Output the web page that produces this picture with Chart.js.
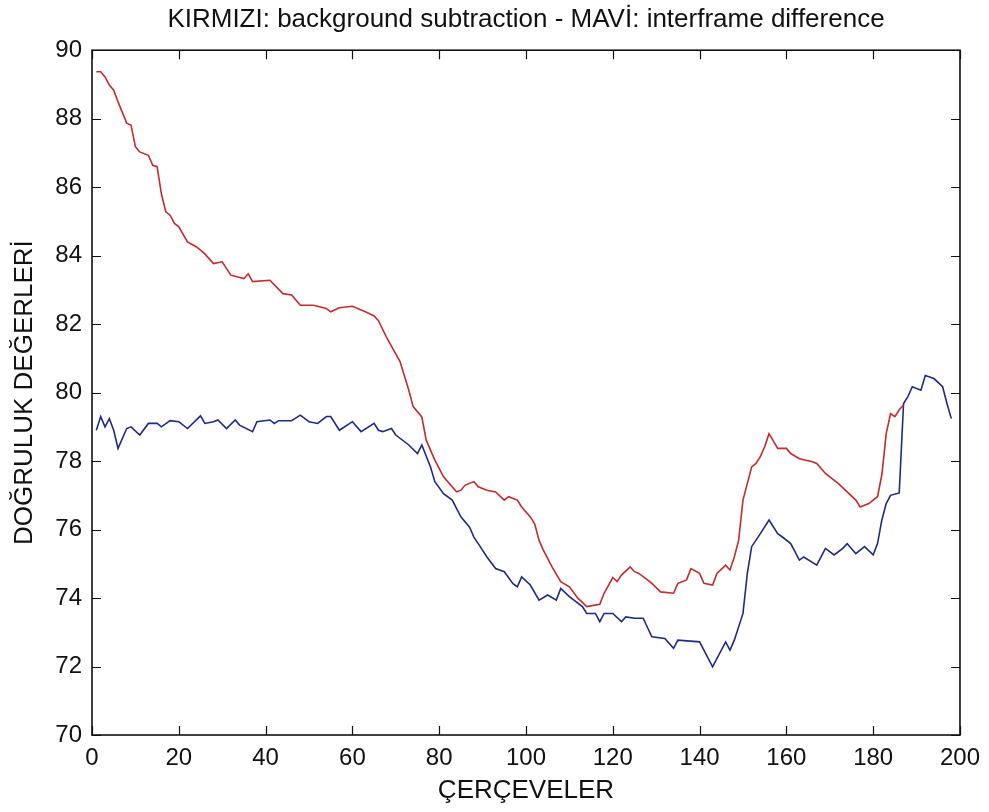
<!DOCTYPE html>
<html>
<head>
<meta charset="utf-8">
<script src="https://cdn.jsdelivr.net/npm/chart.js@4"></script>
<style>
  html, body { margin: 0; padding: 0; background: #fff; }
  #wrap { width: 989px; height: 812px; }
</style>
</head>
<body>
<div id="wrap"><canvas id="grafico" width="989" height="812"></canvas></div>
<script>
/* ================= DADOS ================= */

const titulo = "KIRMIZI: background subtraction - MAVİ: interframe difference";
const tituloX = "ÇERÇEVELER";
const tituloY = "DOĞRULUK DEĞERLERİ";

const xTicks = [0, 20, 40, 60, 80, 100, 120, 140, 160, 180, 200];
const yTicks = [70, 72, 74, 76, 78, 80, 82, 84, 86, 88, 90];

// KIRMIZI: background subtraction
const kirmiziFrames = [1,2,3,4,5,6,8,9,10,11,13,14,15,16,17,18,19,20,22,24,25,26,28,30,31,32,35,36,37,41,44,46,48,51,54,55,57,60,63,65,66,68,71,73,74,76,77,79,81,84,85,86,88,89,91,93,95,96,98,99,101,102,103,104,106,108,110,112,114,117,118,120,121,122,124,125,126,128,129,131,134,135,137,138,140,141,143,144,146,147,148,149,150,152,153,154,155,156,158,160,161,163,166,167,169,170,172,174,176,177,179,181,182,183,184,185,186,187];
const kirmiziValores = [89.37,89.37,89.22,88.98,88.83,88.49,87.87,87.81,87.18,87.03,86.93,86.64,86.60,85.80,85.28,85.18,84.94,84.84,84.40,84.26,84.16,84.05,83.77,83.82,83.62,83.43,83.33,83.47,83.24,83.28,82.89,82.85,82.55,82.55,82.46,82.36,82.48,82.52,82.36,82.24,82.10,81.58,80.90,80.07,79.59,79.29,78.61,78.03,77.54,77.10,77.15,77.30,77.40,77.25,77.15,77.10,76.86,76.96,76.86,76.66,76.37,76.17,75.69,75.40,74.91,74.48,74.33,73.99,73.75,73.82,74.14,74.60,74.48,74.67,74.91,74.77,74.72,74.53,74.43,74.18,74.14,74.43,74.53,74.86,74.72,74.43,74.38,74.72,74.96,74.82,75.20,75.69,76.86,77.83,77.93,78.13,78.42,78.80,78.37,78.37,78.22,78.07,77.98,77.93,77.64,77.54,77.34,77.10,76.86,76.66,76.76,76.96,77.60,78.80,79.39,79.30,79.50,79.64];

// MAVİ: interframe difference
const maviFrames = [1,2,3,4,5,6,8,9,11,13,15,16,18,20,22,25,26,28,29,31,33,34,37,38,41,42,43,46,48,50,52,54,55,57,60,62,65,66,67,69,70,73,75,76,78,79,81,83,85,87,88,89,91,93,95,97,98,99,101,103,105,107,108,110,113,114,116,117,118,120,122,123,125,127,129,132,134,135,140,143,146,147,148,150,151,152,154,156,158,159,161,163,164,167,169,171,173,174,176,178,180,181,182,183,184,186,187,188,189,191,192,194,196,197,198];
const maviValores = [78.90,79.30,79.00,79.24,78.90,78.37,78.95,79.00,78.76,79.10,79.10,79.00,79.18,79.15,78.95,79.32,79.10,79.15,79.20,78.95,79.20,79.05,78.86,79.15,79.20,79.10,79.18,79.18,79.34,79.15,79.10,79.30,79.30,78.90,79.15,78.86,79.10,78.90,78.86,78.95,78.76,78.47,78.22,78.47,77.83,77.40,77.05,76.86,76.37,76.07,75.78,75.59,75.20,74.86,74.77,74.42,74.33,74.62,74.38,73.94,74.09,73.94,74.28,74.04,73.75,73.55,73.55,73.31,73.55,73.55,73.31,73.45,73.41,73.41,72.87,72.82,72.53,72.77,72.72,71.99,72.72,72.48,72.77,73.55,74.72,75.50,75.88,76.28,75.88,75.79,75.59,75.11,75.20,74.96,75.45,75.26,75.45,75.59,75.30,75.50,75.26,75.59,76.28,76.76,77.00,77.07,79.68,79.88,80.17,80.07,80.50,80.41,80.17,79.68,79.24];

/* ================= UTIL ================= */

const fonte = "'Liberation Sans', Arial, sans-serif";

function montarPontos(frames, valores) {
  return frames.map((f, i) => ({ x: f, y: valores[i] }));
}

// caixa estilo MATLAB com ticks para dentro
const caixaMatlab = {
  id: "caixaMatlab",
  afterDatasetsDraw(chart) {
    const { ctx, chartArea: a, scales: { x, y } } = chart;
    ctx.save();
    ctx.strokeStyle = "#111";
    ctx.lineWidth = 1.6;
    ctx.strokeRect(a.left, a.top, a.right - a.left, a.bottom - a.top);
    ctx.beginPath();
    xTicks.forEach(t => {
      const px = Math.round(x.getPixelForValue(t)) + 0.5;
      ctx.moveTo(px, a.bottom); ctx.lineTo(px, a.bottom - 9);
      ctx.moveTo(px, a.top); ctx.lineTo(px, a.top + 9);
    });
    yTicks.forEach(t => {
      const py = Math.round(y.getPixelForValue(t)) + 0.5;
      ctx.moveTo(a.left, py); ctx.lineTo(a.left + 9, py);
      ctx.moveTo(a.right, py); ctx.lineTo(a.right - 9, py);
    });
    ctx.lineWidth = 1.2;
    ctx.stroke();
    ctx.restore();
  }
};

/* ================= GRÁFICO ================= */

new Chart(document.getElementById("grafico"), {
  type: "line",
  data: {
    datasets: [
      {
        label: "KIRMIZI",
        data: montarPontos(kirmiziFrames, kirmiziValores),
        borderColor: "#c62a2a",
        borderWidth: 1.6,
        pointRadius: 0,
        tension: 0
      },
      {
        label: "MAVİ",
        data: montarPontos(maviFrames, maviValores),
        borderColor: "#1f2a86",
        borderWidth: 1.6,
        pointRadius: 0,
        tension: 0
      }
    ]
  },
  options: {
    responsive: false,
    animation: false,
    layout: { padding: { left: 0, right: 26, top: 0, bottom: 3 } },
    plugins: {
      legend: { display: false },
      tooltip: { enabled: false },
      title: {
        display: true,
        fullSize: false,
        text: titulo,
        color: "#111",
        font: { family: fonte, size: 26, weight: "normal" },
        padding: { top: 4, bottom: 15 }
      }
    },
    scales: {
      x: {
        type: "linear",
        min: 0,
        max: 200,
        afterBuildTicks: s => { s.ticks = xTicks.map(v => ({ value: v })); },
        afterFit: s => { s.height = 74; },
        grid: { display: false, drawTicks: false },
        border: { display: false },
        ticks: { color: "#111", padding: 9, font: { family: fonte, size: 24 } },
        title: {
          display: true,
          text: tituloX,
          color: "#111",
          font: { family: fonte, size: 26 },
          padding: { top: 0, bottom: 3 }
        }
      },
      y: {
        min: 70,
        max: 90,
        afterBuildTicks: s => { s.ticks = yTicks.map(v => ({ value: v })); },
        afterFit: s => { s.width = 92; },
        grid: { display: false, drawTicks: false },
        border: { display: false },
        ticks: { color: "#111", padding: 10, font: { family: fonte, size: 24 } },
        title: {
          display: true,
          text: tituloY,
          color: "#111",
          font: { family: fonte, size: 26 },
          padding: { top: 9, bottom: 0 }
        }
      }
    }
  },
  plugins: [caixaMatlab]
});
</script>
</body>
</html>
